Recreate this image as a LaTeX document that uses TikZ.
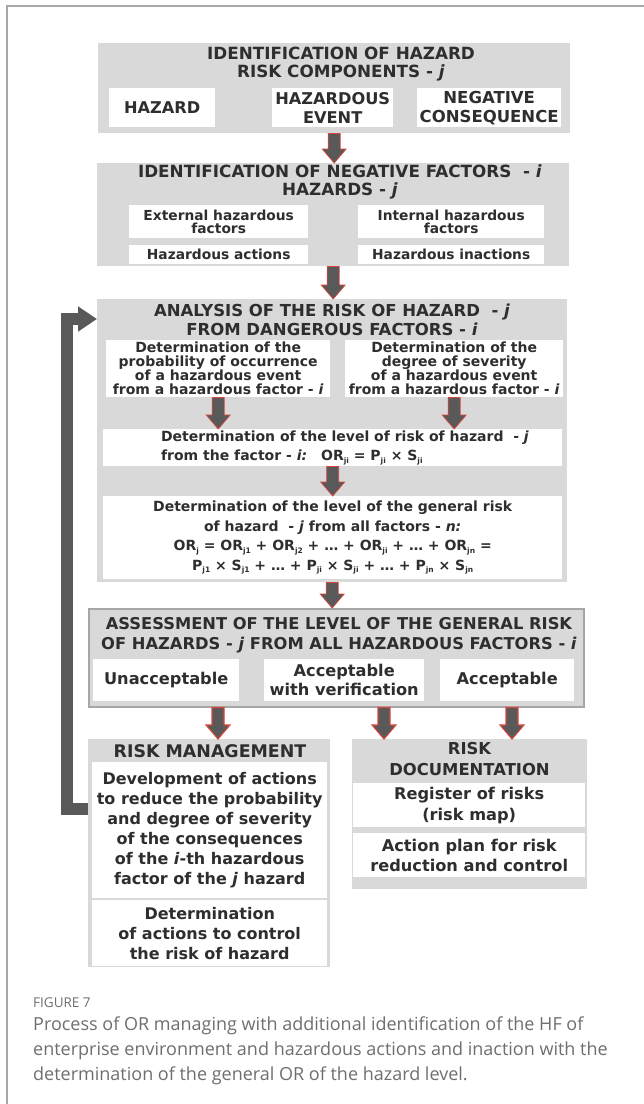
\documentclass[tikz,border=0pt]{standalone}
\usepackage{fontspec}
\setmainfont{DejaVu Sans}
\newfontfamily\capfont{Open Sans}
\usetikzlibrary{calc,arrows.meta}

\definecolor{blockgray}{HTML}{D9D9D9}
\definecolor{arrowgray}{HTML}{595959}
\definecolor{arrowred}{HTML}{D8473A}
\definecolor{textdark}{HTML}{2E2E2E}
\definecolor{framegray}{HTML}{A8A8A8}
\definecolor{captiongray}{HTML}{6E6E6E}
\definecolor{rimgray}{HTML}{A6A6A6}

% small subscript used in the risk formulas
\newcommand\sbs[1]{\raisebox{-0.35ex}{\fontsize{7.5}{7.5}\selectfont #1}}

% block arrow from #2 down to #3 (same x)
\newcommand\blkarrow[3][]{%
  \draw[barrow,#1] ($(#2)+(-6,0)$) -- ($(#3)+(-6,-14)$) -- ($(#3)+(-12,-14)$) -- (#3)
     -- ($(#3)+(12,-14)$) -- ($(#3)+(6,-14)$) -- ($(#2)+(6,0)$) -- cycle;}

\tikzset{
  gblock/.style={fill=blockgray, draw=none, anchor=north west, inner sep=0pt},
  wbox/.style={fill=white, draw=none, anchor=north west, inner sep=0pt, align=center,
               text=textdark},
  big/.style={font=\bfseries\fontsize{16.2}{19}\selectfont},
  small/.style={font=\bfseries\fontsize{13.8}{13}\selectfont},
  title/.style={text=textdark, align=center, inner sep=0pt,
                font=\bfseries\fontsize{16.8}{19}\selectfont},
  barrow/.style={fill=arrowgray, draw=arrowred, line width=0.7pt, line join=miter},
  loopline/.style={draw=arrowgray, line width=12pt, line join=miter,
                   -{Triangle[width=24pt 0 0, length=19pt 0 0]}},
  caption/.style={text=captiongray, inner sep=0pt, align=left},
}

\begin{document}
\begin{tikzpicture}[x=1pt,y=-1pt]
\useasboundingbox (0,0) rectangle (644,1104);

% panel frame (top and left edges)
\draw[framegray, line width=1.2pt] (7,1104) -- (7,6) -- (644,6);

% ---- hazard risk components
\node[gblock, minimum width=472pt, minimum height=90pt] (b1) at (98,43) {};
\node[title] (t1) at (341,64) {IDENTIFICATION OF HAZARD\\[-1pt]RISK COMPONENTS - \textit{j}};
\node[wbox, big, minimum width=106pt, minimum height=39pt] (w11) at (109,88) {HAZARD};
\node[wbox, big, minimum width=121pt, minimum height=39pt] (w12) at (272,88) {HAZARDOUS\\EVENT};
\node[wbox, big, font=\bfseries\fontsize{16.5}{19}\selectfont, minimum width=144pt, minimum height=39pt] (w13) at (417,88) {NEGATIVE\\CONSEQUENCE};

% ---- negative factors
\node[gblock, minimum width=472pt, minimum height=103pt] (b2) at (97,163) {};
\node[title] (t2) at (340,182) {IDENTIFICATION OF NEGATIVE FACTORS~ - \textit{i}\\[-1pt]HAZARDS - \textit{j}};
\node[wbox, small, minimum width=179pt, minimum height=33pt] (w21) at (129,205) {External hazardous\\factors};
\node[wbox, small, minimum width=186pt, minimum height=33pt] (w22) at (358,205) {Internal hazardous\\factors};
\node[wbox, small, minimum width=179pt, minimum height=19pt] (w23) at (129,245) {Hazardous actions};
\node[wbox, small, minimum width=186pt, minimum height=19pt] (w24) at (358,245) {Hazardous inactions};

% ---- risk analysis
\node[gblock, minimum width=470pt, minimum height=283pt] (b3) at (97,299) {};
\node[title, font=\bfseries\fontsize{16.5}{19.5}\selectfont] (t3) at (332,320) {ANALYSIS OF THE RISK OF HAZARD~ - \textit{j}\\FROM DANGEROUS FACTORS - \textit{i}};
\node[wbox, font=\bfseries\fontsize{14}{14}\selectfont, minimum width=224pt, minimum height=57pt] (w31) at (106,340)
  {Determination of the\\probability of occurrence\\of a hazardous event\\from a hazardous factor - \textit{i}};
\node[wbox, font=\bfseries\fontsize{14}{14}\selectfont, minimum width=218pt, minimum height=57pt] (w32) at (345,340)
  {Determination of the\\degree of severity\\of a hazardous event\\from a hazardous factor - \textit{i}};
\node[wbox, minimum width=459pt, minimum height=37pt] (w33) at (103,429) {};
\node[text=textdark, align=left, inner sep=0pt, font=\bfseries\fontsize{14}{18.5}\selectfont] (w33t) at (345,448)
  {Determination of the level of risk of hazard~ - \textit{j}\\
   from the factor - \textit{i:}\quad OR\sbs{ji} = P\sbs{ji} × S\sbs{ji}};
\node[wbox, font=\bfseries\fontsize{14}{19.5}\selectfont, minimum width=459pt, minimum height=83pt] (w34) at (103,496)
  {Determination of the level of the general risk\\
   of hazard~ - \textit{j} from all factors - \textit{n:}\\
   OR\sbs{j} = OR\sbs{j1} + OR\sbs{j2} + … + OR\sbs{ji} + … + OR\sbs{jn} =\\
   P\sbs{j1} × S\sbs{j1} + … + P\sbs{ji} × S\sbs{ji} + … + P\sbs{jn} × S\sbs{jn}};

% ---- assessment
\node[gblock, draw=rimgray, line width=1.5pt, minimum width=495pt, minimum height=98pt] (b4) at (88,608) {};
\node[title, font=\bfseries\fontsize{16.3}{20}\selectfont] (t4) at (339,635) {ASSESSMENT OF THE LEVEL OF THE GENERAL RISK\\OF HAZARDS - \textit{j} FROM ALL HAZARDOUS FACTORS - \textit{i}};
\node[wbox, big, minimum width=146pt, minimum height=42pt] (w41) at (93,659) {Unacceptable};
\node[wbox, big, minimum width=160pt, minimum height=42pt] (w42) at (264,659) {Acceptable\\with verification};
\node[wbox, big, minimum width=134pt, minimum height=42pt] (w43) at (440,659) {Acceptable};

% ---- risk management
\node[gblock, minimum width=242pt, minimum height=228pt] (rm) at (88,739) {};
\node[title, font=\bfseries\fontsize{17.4}{19}\selectfont] (rmt) at (210,751) {RISK MANAGEMENT};
\node[wbox, font=\bfseries\fontsize{16}{20}\selectfont, minimum width=235pt, minimum height=136pt] (rw1) at (92,762)
  {Development of actions\\to reduce the probability\\and degree of severity\\of the consequences\\of the \textit{i}-th hazardous\\factor of the \textit{j} hazard};
\node[wbox, font=\bfseries\fontsize{16}{20}\selectfont, minimum width=235pt, minimum height=66pt] (rw2) at (92,900)
  {Determination\\of actions to control\\the risk of hazard};

% ---- risk documentation
\node[gblock, minimum width=235pt, minimum height=150pt] (rd) at (352,739) {};
\node[title, font=\bfseries\fontsize{16.4}{21}\selectfont] (rdt) at (469.5,759.5) {RISK\\DOCUMENTATION};
\node[wbox, font=\bfseries\fontsize{16.2}{21}\selectfont, minimum width=232pt, minimum height=44pt] (dw1) at (353,783)
  {Register of risks\\(risk map)};
\node[wbox, font=\bfseries\fontsize{16.2}{20}\selectfont, minimum width=232pt, minimum height=44pt] (dw2) at (353,833)
  {Action plan for risk\\reduction and control};

% ---- connectors
\blkarrow{b1.south}{b1.south |- b2.north}
\blkarrow{b2.south}{b2.south |- b3.north}
\blkarrow{w31.south}{w31.south |- w33.north}
\blkarrow{w32.south}{w32.south |- w33.north}
\blkarrow{w33.south}{w33.south |- w34.north}
\blkarrow{b3.south}{b3.south |- b4.north}

\path (b4.south west) ++(130,0) coordinate (u1) ++(166,0) coordinate (u2) ++(128,0) coordinate (u3);
\blkarrow[line width=1.1pt]{u1}{u1 |- rm.north}
\blkarrow[line width=1.1pt]{u2}{u2 |- rd.north}
\blkarrow[line width=1.1pt]{u3}{u3 |- rd.north}

% feedback from risk management back to the analysis stage
\coordinate (fbout) at ($(rm.north west)+(0,70)$);
\coordinate (fbin) at ($(b3.north west)+(0,20)$);
\coordinate (fbcorner) at (67,319);
\draw[loopline] (fbout) -| (fbcorner) -- (fbin);

% ---- caption
\node[caption, anchor=base west, font=\capfont\fontsize{13.5}{13.5}\selectfont] (figlabel) at (33,1007) {FIGURE 7};
\node[caption, anchor=north west, font=\capfont\fontsize{18}{24.8}\selectfont] (captext) at (33,1017)
  {Process of OR managing with additional identification of the HF of\\
   enterprise environment and hazardous actions and inaction with the\\
   determination of the general OR of the hazard level.};
\end{tikzpicture}
\end{document}
